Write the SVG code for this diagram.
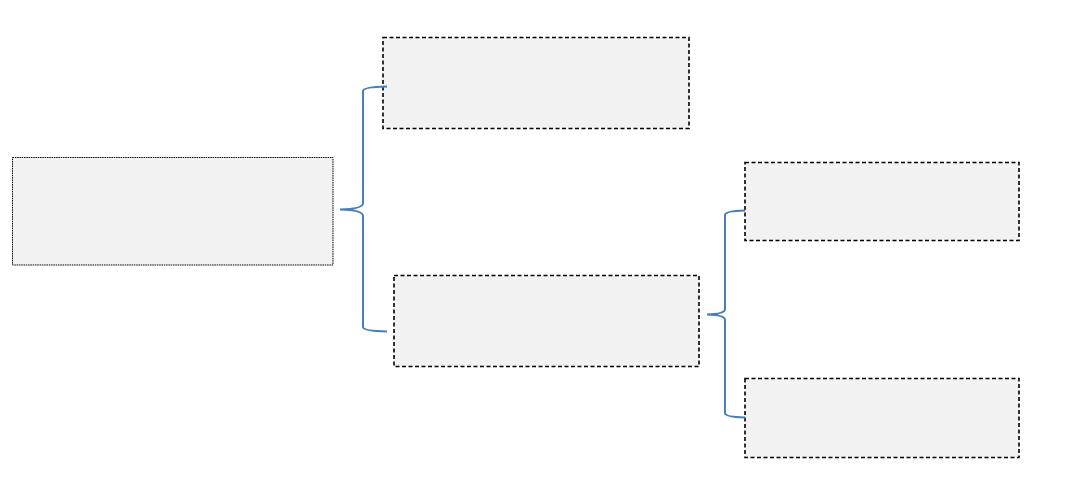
<svg xmlns="http://www.w3.org/2000/svg" width="1086" height="498" viewBox="0 0 1086 498">
<style>
.box{fill:#f2f2f2;stroke:#000;stroke-width:1.6;stroke-dasharray:4,2.5}
.root{fill:#f2f2f2;stroke:#000;stroke-width:1;stroke-dasharray:1.5,0.8}
.brace{fill:none;stroke:#4a7ebb;stroke-width:2}
</style>
<rect width="1086" height="498" fill="#fff"/>
<g id="root"><rect class="root" x="12.5" y="157.5" width="320.5" height="107.5"/></g>
<g id="top"><rect class="box" x="383" y="37.5" width="306" height="91"/></g>
<g id="middle"><rect class="box" x="394" y="275.5" width="305" height="91"/></g>
<g id="right-top"><rect class="box" x="745" y="162.5" width="274" height="78"/></g>
<g id="right-bottom"><rect class="box" x="745" y="378.5" width="274" height="79"/></g>
<g id="connectors">
<path class="brace" d="M387,86.5 Q363,87 363,91 L363,203 Q363,209 340,209.5 Q363,210 363,216 L363,327 Q363,331 387,331.5"/>
<path class="brace" d="M745,210.5 Q725,211 725,215 L725,309 Q725,314 707,314.5 Q725,315 725,320 L725,413 Q725,417 745,417.5"/>
</g>
</svg>
